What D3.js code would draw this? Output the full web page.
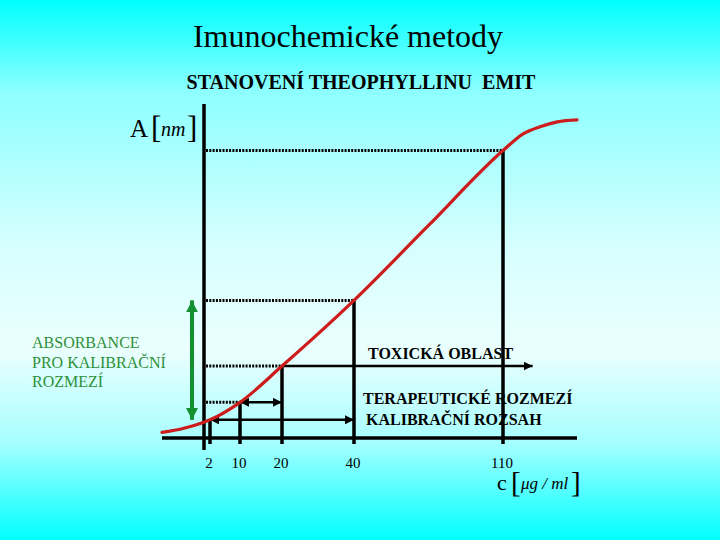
<!DOCTYPE html>
<html><head><meta charset="utf-8">
<script src="https://cdn.jsdelivr.net/npm/d3@7"></script>
<style>html,body{margin:0;padding:0;overflow:hidden;background:#fff}svg{display:block}</style>
</head><body><svg id="chart" width="720" height="540"></svg>
<script>
// ---------- data ----------
const titleText = "Imunochemické metody";
const subtitleText = "STANOVENÍ THEOPHYLLINU  EMIT";
// calibration curve (concentration µg/ml, absorbance in relative units)
const concentration = [-1, -0.5, 0, 2, 10, 20, 40, 75, 110, 118, 125, 132, 140];
const absorbance    = [0.017, 0.029, 0.048, 0.055, 0.108, 0.218, 0.417, 0.644, 0.871, 0.921, 0.943, 0.958, 0.964];
// marked concentrations on the x axis
const markedConc = [2, 10, 20, 40, 110];
const tickLabels = ["2", "10", "20", "40", "110"];
// concentrations with dotted absorbance guides
const guideConc = [10, 20, 40, 110];
// concentration ranges
const rangeNames = ["TOXICKÁ OBLAST", "TERAPEUTICKÉ ROZMEZÍ", "KALIBRAČNÍ ROZSAH"];
const rangeFrom  = [20, 10, 2];
const rangeTo    = [122, 20, 40];
const rangeHeads = [["end"], ["start", "end"], ["start", "end"]];
// absorbance range for calibration (bounded by concentrations)
const absRangeConc = [2, 40];
const absRangeLabel = ["ABSORBANCE", "PRO KALIBRAČNÍ", "ROZMEZÍ"];

// ---------- layout ----------
const W = 720, H = 540;
const serif = "'Liberation Serif', 'Times New Roman', serif";
const svg = d3.select("#chart");
const defs = svg.append("defs");

const grad = defs.append("linearGradient").attr("id", "bg").attr("x1", 0).attr("y1", 0).attr("x2", 0).attr("y2", 1);
[[0, "#00ffff"], [0.17, "#8dffff"], [0.45, "#d6ffff"], [0.65, "#eafffe"], [0.82, "#a6ffff"], [1, "#00ffff"]]
  .forEach(([o, c]) => grad.append("stop").attr("offset", o).attr("stop-color", c));
svg.append("rect").attr("width", W).attr("height", H).attr("fill", "url(#bg)");

function marker(id, color, size) {
  defs.append("marker").attr("id", id).attr("markerUnits", "userSpaceOnUse")
    .attr("viewBox", "0 0 10 10").attr("refX", 10).attr("refY", 5)
    .attr("markerWidth", size).attr("markerHeight", size).attr("orient", "auto-start-reverse")
    .append("path").attr("d", "M0,0 L10,5 L0,10 Z").attr("fill", color);
}
marker("arrK", "#000", 9);
marker("arrG", "#13902f", 12);

// schematic (piecewise) concentration axis
const x = d3.scaleLinear()
  .domain([-1, 0, 2, 10, 20, 40, 110, 140])
  .range([162, 204, 210, 240, 282, 354, 503, 577]);
const y = d3.scaleLinear().domain([0, 1]).range([438, 108]);
const absAt = c => absorbance[concentration.indexOf(c)];

const g = svg.append("g");

// titles
svg.append("text").attr("x", 348).attr("y", 47).attr("text-anchor", "middle")
  .attr("font-family", serif).attr("font-size", 32).attr("fill", "#000").text(titleText);
svg.append("text").attr("x", 361).attr("y", 89).attr("text-anchor", "middle")
  .attr("font-family", serif).attr("font-size", 20).attr("font-weight", "bold")
  .style("white-space", "pre").attr("fill", "#000").text(subtitleText);

// axes
g.append("line").attr("x1", x(0)).attr("x2", x(0)).attr("y1", y(1) - 4).attr("y2", y(0) + 12)
  .attr("stroke", "#000").attr("stroke-width", 3.5);
g.append("line").attr("x1", x(-1)).attr("x2", x(140)).attr("y1", y(0)).attr("y2", y(0))
  .attr("stroke", "#000").attr("stroke-width", 3.5);

// dotted guides
g.selectAll(".guide").data(guideConc).join("line")
  .attr("x1", x(0) + 2).attr("x2", d => x(d)).attr("y1", d => y(absAt(d))).attr("y2", d => y(absAt(d)))
  .attr("stroke", "#000").attr("stroke-width", 3).attr("stroke-dasharray", "2,1.3");

// vertical drops
g.selectAll(".drop").data(markedConc).join("line")
  .attr("x1", d => x(d)).attr("x2", d => x(d)).attr("y1", d => y(absAt(d))).attr("y2", y(0) + 6)
  .attr("stroke", "#000").attr("stroke-width", 3.5);

// tick labels
g.selectAll(".tl").data(markedConc).join("text")
  .attr("x", d => x(d) - 1).attr("y", 468).attr("text-anchor", "middle")
  .attr("font-family", serif).attr("font-size", 15).attr("fill", "#000")
  .text((d, i) => tickLabels[i]);

// range arrows
rangeNames.forEach((name, i) => {
  const lvl = y(absAt(rangeFrom[i]));
  const ln = g.append("line").attr("x1", x(rangeFrom[i])).attr("x2", x(rangeTo[i]))
    .attr("y1", lvl).attr("y2", lvl).attr("stroke", "#000").attr("stroke-width", 2.5);
  if (rangeHeads[i].includes("start")) ln.attr("marker-start", "url(#arrK)");
  if (rangeHeads[i].includes("end")) ln.attr("marker-end", "url(#arrK)");
});
const rangeLabelPos = [[368, 359], [363, 404], [366, 425]];
rangeNames.forEach((name, i) => {
  g.append("text").attr("x", rangeLabelPos[i][0]).attr("y", rangeLabelPos[i][1])
    .attr("font-family", serif).attr("font-size", 16).attr("font-weight", "bold")
    .attr("fill", "#000").text(name);
});

// calibration curve
const pts = concentration.map((c, i) => [x(c), y(absorbance[i])]);
g.append("path").attr("d", d3.line().curve(d3.curveMonotoneX)(pts))
  .attr("fill", "none").attr("stroke", "#cc1c1c").attr("stroke-width", 3.2).attr("stroke-linecap", "round");

// green absorbance arrow
g.append("line").attr("x1", x(0) - 12).attr("x2", x(0) - 12)
  .attr("y1", y(absAt(absRangeConc[0]))).attr("y2", y(absAt(absRangeConc[1])))
  .attr("stroke", "#13902f").attr("stroke-width", 4)
  .attr("marker-start", "url(#arrG)").attr("marker-end", "url(#arrG)");
absRangeLabel.forEach((t, i) => {
  g.append("text").attr("x", 32).attr("y", 348 + i * 19.5)
    .attr("font-family", serif).attr("font-size", 16).attr("fill", "#2f8f3a").text(t);
});

// axis titles
const aT = svg.append("g").attr("font-family", serif).attr("fill", "#000");
aT.append("text").attr("x", 130).attr("y", 137).attr("font-size", 25).text("A");
aT.append("text").attr("x", 151).attr("y", 138).attr("font-size", 31).text("[");
aT.append("text").attr("x", 161).attr("y", 136).attr("font-size", 20).attr("font-style", "italic").text("nm");
aT.append("text").attr("x", 187).attr("y", 138).attr("font-size", 31).text("]");

const cT = svg.append("g").attr("font-family", serif).attr("fill", "#000");
cT.append("text").attr("x", 497).attr("y", 490).attr("font-size", 22).text("c");
cT.append("text").attr("x", 511).attr("y", 492).attr("font-size", 29).text("[");
cT.append("text").attr("x", 521).attr("y", 489).attr("font-size", 17).attr("font-style", "italic")
  .style("white-space", "pre").text("μg / ml");
cT.append("text").attr("x", 571).attr("y", 492).attr("font-size", 29).text("]");
</script></body></html>
